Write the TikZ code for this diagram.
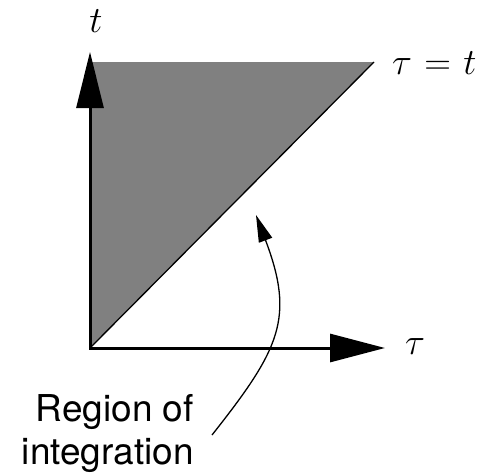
\documentclass[tikz,border=0pt]{standalone}
\usepackage{fix-cm}
\usepackage{fontspec}
\newfontfamily\labelfont{TeX Gyre Heros}
\usetikzlibrary{arrows.meta}
\definecolor{regiongray}{RGB}{128,128,128}
\begin{document}
\begin{tikzpicture}[x=1pt,y=-1pt,
  axis/.style={line width=3pt, {Triangle[length=56pt,width=27pt]}-{Triangle[length=55pt,width=28pt]}},
  diag/.style={line width=1.3pt},
  pointer/.style={line width=1.3pt,-{Triangle[length=27pt,width=14pt]}},
  mathlabel/.style={inner sep=0pt, font=\fontsize{37}{44}\selectfont},
  textlabel/.style={inner sep=0pt, font=\labelfont\fontsize{37}{44}\selectfont}]
\useasboundingbox (0,0) rectangle (483,474);
\coordinate (O) at (90,348);
\coordinate (T) at (90,52);
\coordinate (X) at (385,348);
\coordinate (TL) at (90,62);
\coordinate (TR) at (374,62);
\fill[regiongray] (O) -- (TL) -- (TR) -- cycle;
\draw[diag] (O) -- (TR);
\draw[axis] (T) -- (O) -- (X);
\node[mathlabel, anchor=base] (tlabel) at (96,32) {$t$};
\node[mathlabel, anchor=base west] (difflabel) at (392,74) {$\tau\mskip1mu=\mskip1mu t$};
\node[mathlabel, anchor=base west] (taulabel) at (405,354) {$\tau$};
\node[textlabel, anchor=base east] (reg1) at (194,421) {Region of};
\node[textlabel, anchor=base east] (reg2) at (194,464) {integration};
\coordinate (ps) at (212,435);
\coordinate (pe) at (256,215);
\draw[pointer] (ps) .. controls (280,349) and (295,318) .. (pe);
\end{tikzpicture}
\end{document}
